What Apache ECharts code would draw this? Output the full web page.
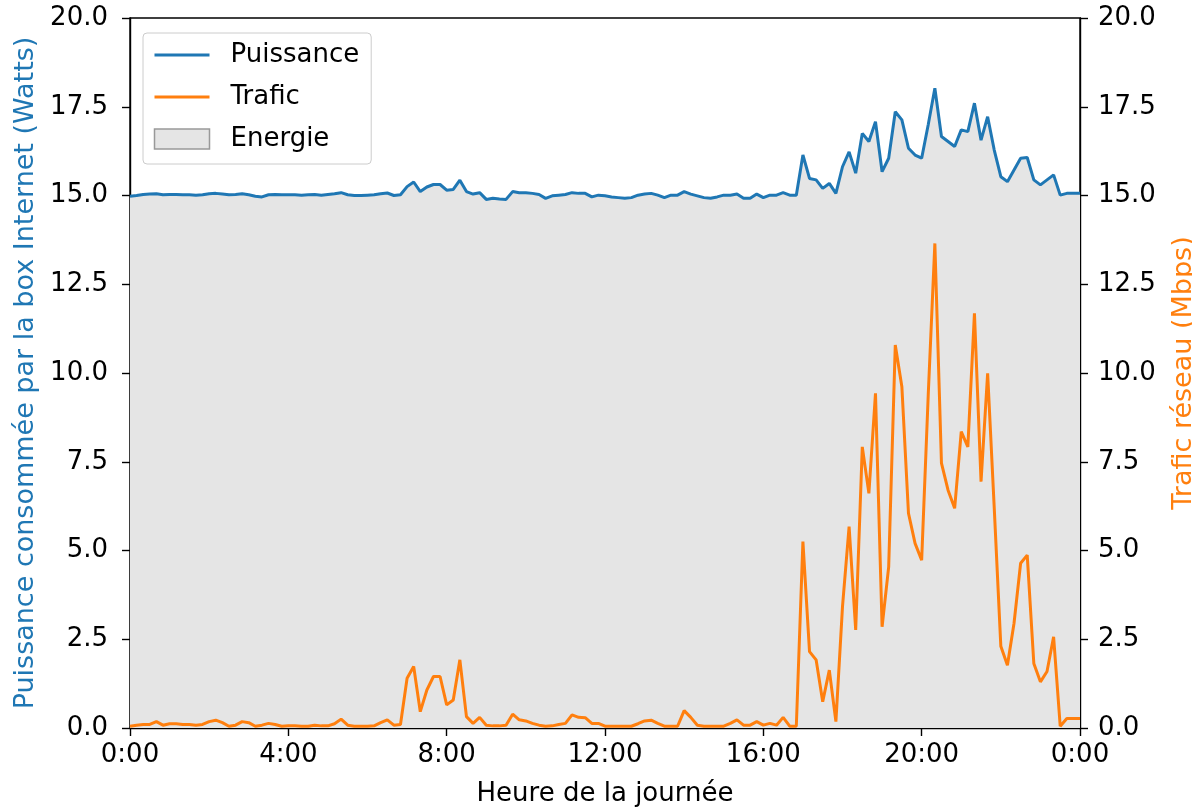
<!DOCTYPE html>
<html>
<head>
<meta charset="utf-8">
<script src="https://cdn.jsdelivr.net/npm/echarts@6/dist/echarts.min.js"></script>
<style>
html,body{margin:0;padding:0;background:#fff;}
#chart{width:1192px;height:811px;}
</style>
</head>
<body>
<div id="chart"></div>
<script>
// 10-minute samples from 0:00 to 24:00 (145 points)
const stepMinutes = 10;
const xTickLabels = ['0:00', '4:00', '8:00', '12:00', '16:00', '20:00', '0:00'];
const yTicks = ['0.0', '2.5', '5.0', '7.5', '10.0', '12.5', '15.0', '17.5', '20.0'];

const puissance = [
  14.98,15.0,15.03,15.04,15.05,15.02,15.03,15.03,15.02,15.02,15.01,15.02,
  15.05,15.06,15.04,15.02,15.03,15.05,15.02,14.98,14.96,15.02,15.03,15.02,
  15.02,15.02,15.01,15.02,15.03,15.01,15.03,15.05,15.08,15.02,15.0,15.0,
  15.01,15.02,15.05,15.07,15.0,15.02,15.25,15.38,15.11,15.24,15.31,15.31,
  15.15,15.17,15.43,15.11,15.04,15.08,14.89,14.92,14.9,14.89,15.11,15.08,
  15.08,15.06,15.03,14.92,14.99,15.01,15.03,15.08,15.06,15.06,14.96,15.01,
  14.99,14.96,14.94,14.92,14.94,15.01,15.04,15.06,15.01,14.94,15.01,15.01,
  15.11,15.04,14.99,14.94,14.92,14.96,15.01,15.01,15.04,14.92,14.92,15.04,
  14.94,15.01,15.01,15.08,15.01,15.01,16.14,15.48,15.44,15.2,15.34,15.06,
  15.81,16.23,15.63,16.75,16.52,17.08,15.67,16.05,17.36,17.13,16.33,16.14,
  16.05,17.0,18.02,16.66,16.52,16.38,16.85,16.8,17.6,16.56,17.22,16.28,
  15.53,15.39,15.72,16.05,16.07,15.44,15.3,15.44,15.58,15.01,15.06,15.06,
  15.06
];

const trafic = [
  0.05,0.08,0.1,0.1,0.18,0.08,0.12,0.12,0.1,0.1,0.08,0.1,
  0.18,0.22,0.15,0.05,0.08,0.18,0.15,0.05,0.08,0.13,0.1,0.05,
  0.06,0.06,0.05,0.05,0.08,0.06,0.06,0.12,0.25,0.08,0.05,0.05,
  0.05,0.06,0.15,0.23,0.08,0.1,1.4,1.73,0.46,1.07,1.45,1.45,
  0.65,0.79,1.92,0.32,0.13,0.3,0.08,0.06,0.06,0.08,0.39,0.23,
  0.2,0.13,0.08,0.05,0.06,0.1,0.13,0.37,0.3,0.29,0.13,0.13,
  0.05,0.05,0.05,0.05,0.05,0.12,0.2,0.22,0.13,0.05,0.05,0.05,
  0.49,0.3,0.08,0.05,0.05,0.05,0.05,0.13,0.23,0.08,0.08,0.18,
  0.08,0.13,0.08,0.3,0.05,0.05,5.25,2.15,1.92,0.74,1.63,0.18,
  3.42,5.67,2.76,7.92,6.61,9.43,2.85,4.54,10.79,9.61,6.05,5.2,
  4.73,9.4,13.65,7.46,6.7,6.19,8.35,7.92,11.68,6.94,9.99,6.2,
  2.3,1.77,2.95,4.64,4.87,1.82,1.3,1.59,2.57,0.05,0.27,0.27,
  0.27
];

const seriesNames = ['Puissance', 'Trafic', 'Energie'];
const leftAxisName = 'Puissance consommée par la box Internet (Watts)';
const rightAxisName = 'Trafic réseau (Mbps)';
const xAxisName = 'Heure de la journée';

const BLUE = '#1f77b4', ORANGE = '#ff7f0e', FILL = '#e5e5e5';
const FONT = 'DejaVu Sans';
const FS = 26;

const toPairs = arr => arr.map((v, i) => [i * stepMinutes, v]);

const yAxisCommon = {
  type: 'value', min: 0, max: 20, interval: 2.5,
  splitLine: { show: false },
  axisLine: { show: true, lineStyle: { color: '#000', width: 1.4 } },
  axisTick: { show: true, inside: false, length: 8, lineStyle: { color: '#000', width: 1.4 } },
  nameLocation: 'middle', nameRotate: 90
};

const chart = echarts.init(document.getElementById('chart'), null, { renderer: 'canvas' });
chart.setOption({
  animation: false,
  backgroundColor: '#fff',
  grid: { left: 130, right: 112, top: 18, bottom: 83, show: true, outerBoundsMode: 'none', containLabel: false,
    borderColor: '#000', borderWidth: 1.4, backgroundColor: 'transparent' },
  legend: {
    orient: 'vertical', left: 143, top: 33,
    data: [
      { name: seriesNames[0], itemStyle: { opacity: 0 }, lineStyle: { width: 3, color: BLUE } },
      { name: seriesNames[1], itemStyle: { opacity: 0 }, lineStyle: { width: 3, color: ORANGE } },
      { name: seriesNames[2], icon: 'rect', itemStyle: { color: FILL, borderColor: '#999', borderWidth: 1.5 } }
    ],
    itemWidth: 55, itemHeight: 20, itemGap: 16,
    padding: [9, 12, 12, 10],
    backgroundColor: 'rgba(255,255,255,0.85)', borderColor: '#cccccc', borderWidth: 1, borderRadius: 4,
    textStyle: { fontFamily: FONT, fontSize: FS, color: '#000', padding: [0, 0, 0, 16] }
  },
  xAxis: {
    type: 'value', min: 0, max: 1440, interval: 240,
    splitLine: { show: false },
    axisLine: { show: true, onZero: false, lineStyle: { color: '#000', width: 1.4 } },
    axisTick: { show: true, length: 8, lineStyle: { color: '#000', width: 1.4 } },
    axisLabel: { color: '#000', fontFamily: FONT, fontSize: FS, margin: 14,
      formatter: v => xTickLabels[Math.round(v / 240)] },
    name: xAxisName, nameLocation: 'middle', nameGap: 53,
    nameTextStyle: { fontFamily: FONT, fontSize: FS, color: '#000' }
  },
  yAxis: [
    Object.assign({}, yAxisCommon, { position: 'left', name: leftAxisName, nameGap: 91,
      axisLabel: { color: '#000', fontFamily: FONT, fontSize: FS, margin: 22,
        formatter: v => yTicks[Math.round(v / 2.5)] },
      nameTextStyle: { fontFamily: FONT, fontSize: 27, color: BLUE } }),
    Object.assign({}, yAxisCommon, { position: 'right', name: rightAxisName, nameGap: 90,
      axisLabel: { color: '#000', fontFamily: FONT, fontSize: FS, margin: 18,
        formatter: v => yTicks[Math.round(v / 2.5)] },
      nameTextStyle: { fontFamily: FONT, fontSize: 27, color: ORANGE } })
  ],
  series: [
    { name: seriesNames[2], type: 'line', data: toPairs(puissance), yAxisIndex: 0,
      symbol: 'none', lineStyle: { width: 0 }, itemStyle: { color: FILL },
      areaStyle: { color: FILL, opacity: 1 }, z: 1, silent: true },
    { name: seriesNames[0], type: 'line', data: toPairs(puissance), yAxisIndex: 0,
      symbol: 'none', lineStyle: { color: BLUE, width: 3 }, itemStyle: { color: BLUE }, z: 3 },
    { name: seriesNames[1], type: 'line', data: toPairs(trafic), yAxisIndex: 1,
      symbol: 'none', lineStyle: { color: ORANGE, width: 3 }, itemStyle: { color: ORANGE }, z: 3 }
  ]
});
</script>
</body>
</html>
